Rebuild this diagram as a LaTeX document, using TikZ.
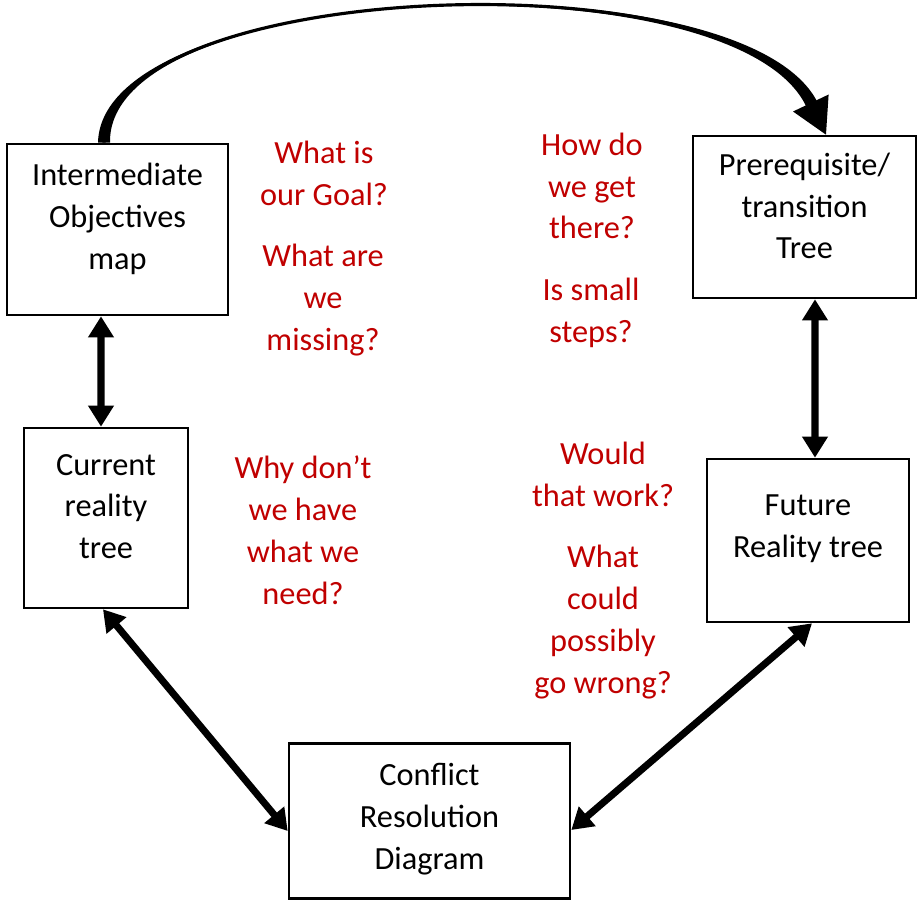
\documentclass[tikz,border=0pt]{standalone}
\usepackage{fontspec}
\setmainfont{Carlito}
\usepackage{xcolor}
\usepackage{tikz}
\usetikzlibrary{arrows.meta,positioning}
\definecolor{darkred}{RGB}{192, 0, 0}

\begin{document}
\begin{tikzpicture}[x=0.02cm, y=-0.02cm,
    treebox/.style={draw, line width=1.5pt, inner sep=0pt},
    boxtext/.style={align=center, font=\fontsize{18.4}{23.8}\selectfont},
    question/.style={align=center, text=darkred, font=\fontsize{18.4}{23.8}\selectfont},
    twoway/.style={{Triangle[length=12pt,width=14pt]}-{Triangle[length=12pt,width=14pt]}, line width=4pt}]
            \useasboundingbox (0,0) rectangle (920,900);

            % Tree boxes
            \node[treebox, minimum width=4.42cm, minimum height=3.42cm] (io) at (117.5,229.5) {};
            \node[boxtext] (iotext) at (117.5,219) {Intermediate\\Objectives\\map};

            \node[treebox, minimum width=3.28cm, minimum height=3.6cm] (crt) at (106,518) {};
            \node[boxtext] (crttext) at (106,506.5) {Current\\reality\\tree};

            \node[treebox, minimum width=4.46cm, minimum height=3.24cm] (pre) at (804.5,217) {};
            \node[boxtext] (pretext) at (804.5,206) {Prerequisite/\\transition\\Tree};

            \node[treebox, minimum width=4.04cm, minimum height=3.26cm] (frt) at (808,540.5) {};
            \node[boxtext] (frttext) at (808,529) {Future\\Reality tree};

            \node[treebox, minimum width=5.62cm, minimum height=3.1cm] (crd) at (429.5,821) {};
            \node[boxtext] (crdtext) at (429.5,819) {Conflict\\Resolution\\Diagram};

            % Questions
            \node[question] (goal) at (324,173) {What is\\our Goal?};
            \node[question] (missing) at (323,300) {What are\\we\\missing?};
            \node[question] (there) at (592,186) {How do\\we get\\there?};
            \node[question] (small) at (591,313) {Is small\\steps?};
            \node[question] (need) at (303,530) {Why don’t\\we have\\what we\\need?};
            \node[question] (work) at (603,474) {Would\\that work?};
            \node[question] (wrong) at (603,622) {What\\could\\possibly\\go wrong?};

            % Connectors
            \draw[twoway] ([xshift=-0.33cm]io.south) -- ([xshift=-0.1cm]crt.north);
            \draw[twoway] ([xshift=0.21cm]pre.south) -- ([xshift=0.14cm]frt.north);
            \draw[twoway] ([xshift=-0.06cm]crt.south) -- ([yshift=-0.2cm]crd.west);
            \draw[twoway] ([xshift=0.08cm]frt.south) -- ([yshift=-0.18cm]crd.east);

            % Big arc, thick at both ends
            \coordinate (arcstart) at ([xshift=-0.27cm]io.north);
            \coordinate (arctip) at ([xshift=0.43cm]pre.north);
            \draw[-{Triangle[length=20pt,width=22pt]}, line width=1.8pt]
                (arcstart) .. controls (104,-22) and (740,-45) .. (arctip);
            \fill ([shift={(-6,0)}]arcstart) .. controls (101.5,-22) and (742.3,-46.1) .. ([shift={(-8.6,-32.6)}]arctip)
                -- ([shift={(-19.4,-27.4)}]arctip) .. controls (737.7,-43.9) and (106.5,-22) .. ([shift={(6,0)}]arcstart) -- cycle;
        \end{tikzpicture}
\end{document}
